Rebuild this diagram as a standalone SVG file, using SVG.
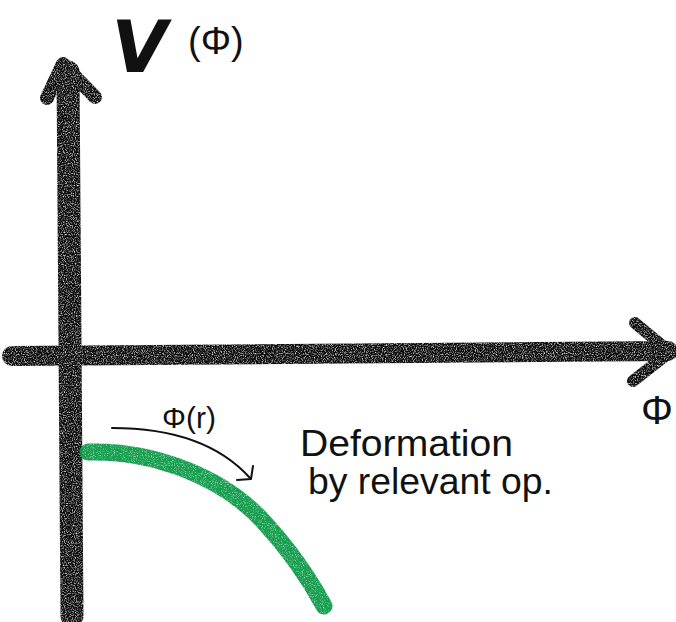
<svg xmlns="http://www.w3.org/2000/svg" width="676" height="622" viewBox="0 0 676 622">
<defs>
<filter id="crayon" x="-10%" y="-10%" width="120%" height="120%">
<feTurbulence type="fractalNoise" baseFrequency="0.9" numOctaves="2" seed="3" result="n"/>
<feColorMatrix in="n" type="matrix" values="0 0 0 0 0  0 0 0 0 0  0 0 0 0 0  0 0 0 -2.2 2" result="m"/>
<feComposite in="SourceGraphic" in2="m" operator="in"/>
</filter>
<filter id="crayon-g" x="-10%" y="-10%" width="120%" height="120%">
<feTurbulence type="fractalNoise" baseFrequency="0.9" numOctaves="2" seed="7" result="n"/>
<feColorMatrix in="n" type="matrix" values="0 0 0 0 0  0 0 0 0 0  0 0 0 0 0  0 0 0 -1.8 1.9" result="m"/>
<feComposite in="SourceGraphic" in2="m" operator="in"/>
</filter>
<style>
.ax{stroke:#111;fill:none;stroke-linecap:round;stroke-linejoin:round}
.green{stroke:#169e50;fill:none;stroke-linecap:round}
.pen{stroke:#111;fill:none;stroke-width:2;stroke-linecap:round;stroke-linejoin:round}
.hand{font-family:"Liberation Sans","DejaVu Sans",sans-serif;fill:#111}
</style>
</defs>
<rect width="676" height="622" fill="#fff"/>
<g id="axes" filter="url(#crayon)">
<path class="ax" d="M68,72 L72,616" stroke-width="23"/>
<path class="ax" d="M47,98 L63,64 L95,97" stroke-width="14"/>
<path class="ax" d="M12,356 L668,351" stroke-width="20"/>
<path class="ax" d="M635,323 L670,352 L633,381" stroke-width="12"/>
</g>
<g id="curve" filter="url(#crayon-g)">
<path class="green" d="M88,452 C150,450 220,475 262,520 C290,550 310,580 324,606" stroke-width="17"/>
</g>
<g id="connectors">
<path class="pen" d="M112,428 Q205,428 250,478"/>
<path class="pen" d="M237,480 L251,479 L253,466"/>
</g>
<g id="label-V">
<text class="hand" x="120" y="72" font-size="72" font-weight="bold" transform="skewX(-10)" style="font-family:'DejaVu Sans',sans-serif">V</text>
<text class="hand" x="188" y="54" font-size="38" font-weight="300">(Φ)</text>
</g>
<g id="label-phi">
<text class="hand" x="641" y="424" font-size="40">Φ</text>
</g>
<g id="label-phir">
<text class="hand" x="162" y="428" font-size="30">Φ(r)</text>
</g>
<g id="label-deformation">
<text class="hand" x="300" y="456" font-size="37" textLength="213" lengthAdjust="spacingAndGlyphs">Deformation</text>
<text class="hand" x="308" y="494" font-size="37" textLength="245" lengthAdjust="spacingAndGlyphs">by relevant op.</text>
</g>
</svg>
